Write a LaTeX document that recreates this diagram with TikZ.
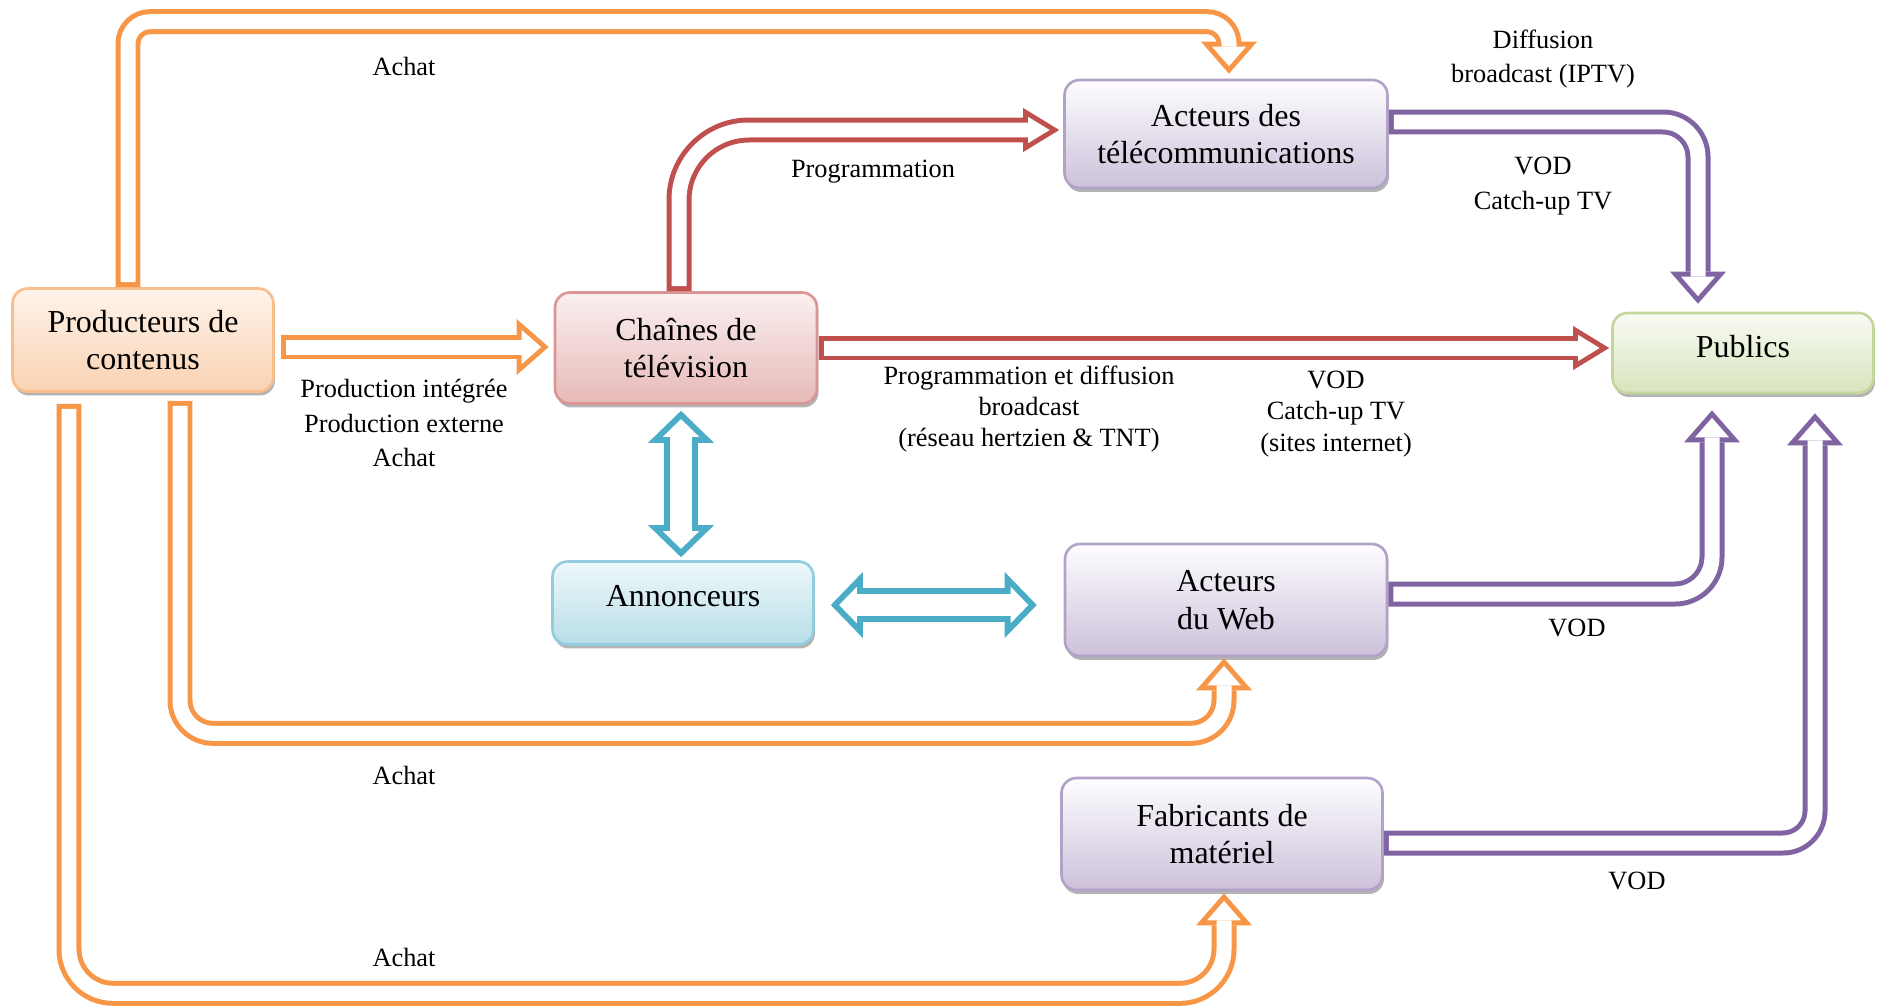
\documentclass[tikz,border=0pt]{standalone}
\usepackage{fontspec}
\setmainfont{Liberation Serif}
\usetikzlibrary{arrows.meta, calc, shadows}

\definecolor{orangeA}{HTML}{F79646}
\definecolor{redA}{HTML}{C0504D}
\definecolor{purpleA}{HTML}{8064A2}
\definecolor{blueA}{HTML}{4BACC6}
\definecolor{prodLine}{HTML}{F9BE8E}
\definecolor{prodTop}{HTML}{FEF3EA}
\definecolor{prodBot}{HTML}{FAD2B2}
\definecolor{chaineLine}{HTML}{D99694}
\definecolor{chaineTop}{HTML}{FBF0F0}
\definecolor{chaineBot}{HTML}{E6B9B8}
\definecolor{violetLine}{HTML}{B3A2C7}
\definecolor{violetTop}{HTML}{FEFDFF}
\definecolor{violetBot}{HTML}{CCC1DA}
\definecolor{publicLine}{HTML}{C3D69B}
\definecolor{publicTop}{HTML}{F9FBF4}
\definecolor{publicBot}{HTML}{D7E4BD}
\definecolor{annLine}{HTML}{93CDDD}
\definecolor{annTop}{HTML}{EEF8FA}
\definecolor{annBot}{HTML}{B7DEE8}

\begin{document}
\begin{tikzpicture}[
            x=0.02cm, y=-0.02cm,
            entity/.style n args={3}{
                draw=#1, top color=#2, bottom color=#3,
                line width=1.5pt, rounded corners=0.3cm,
                inner sep=0pt,
                font=\fontsize{18.2}{21.5}\selectfont,
                drop shadow={shadow xshift=0.03cm, shadow yshift=-0.08cm, opacity=0.6, fill=black!50}
            },
            lbl/.style={align=center, font=\fontsize{15}{19.5}\selectfont},
            blockarrow/.style={
                draw=#1, line width=0.5cm,
                -{Triangle[line width=0pt, length=0.64cm, width=1.12cm]},
                postaction={draw=white, line width=0.3cm, shorten <=0.1cm, shorten >=0.152cm,
                    -{Triangle[line width=0pt, length=0.388cm, width=0.679cm]}}
            },
            slimarrow/.style={
                draw=#1, line width=0.5cm,
                -{Triangle[line width=0pt, length=0.72cm, width=0.88cm]},
                postaction={draw=white, line width=0.3cm, shorten <=0.1cm, shorten >=0.192cm,
                    -{Triangle[line width=0pt, length=0.428cm, width=0.523cm]}}
            },
            twoway/.style={
                draw=#1, line width=0.68cm,
                {Triangle[line width=0pt, length=0.64cm, width=1.32cm]}-{Triangle[line width=0pt, length=0.64cm, width=1.32cm]},
                postaction={draw=white, line width=0.44cm, shorten <=0.167cm, shorten >=0.167cm,
                    {Triangle[line width=0pt, length=0.353cm, width=0.726cm]}-{Triangle[line width=0pt, length=0.353cm, width=0.726cm]}}
            }
        ]
        \useasboundingbox (0,0) rectangle (1880,1007);

        \node[entity={prodLine}{prodTop}{prodBot}, align=center, minimum width=5.22cm, minimum height=2.06cm] (prod) at (143,340) {Producteurs de\\contenus};
        \node[entity={chaineLine}{chaineTop}{chaineBot}, align=center, minimum width=5.24cm, minimum height=2.22cm] (chaines) at (686,348) {Chaînes de\\télévision};
        \node[entity={violetLine}{violetTop}{violetBot}, align=center, minimum width=6.46cm, minimum height=2.16cm] (telecom) at (1226,134) {Acteurs des\\télécommunications};
        \node[entity={publicLine}{publicTop}{publicBot}, text depth=0.28cm, minimum width=5.22cm, minimum height=1.6cm] (publics) at (1743,353) {Publics};
        \node[entity={annLine}{annTop}{annBot}, text depth=0.28cm, minimum width=5.22cm, minimum height=1.66cm] (annonceurs) at (683,603) {Annonceurs};
        \node[entity={violetLine}{violetTop}{violetBot}, align=center, minimum width=6.44cm, minimum height=2.24cm] (web) at (1226,600) {Acteurs\\du Web};
        \node[entity={violetLine}{violetTop}{violetBot}, align=center, minimum width=6.42cm, minimum height=2.24cm] (fabricants) at (1222,834) {Fabricants de\\matériel};

        \draw[blockarrow=orangeA, rounded corners=0.44cm] ($(prod.north)+(-15,0)$) |- ($(telecom.north)+(3,-57)$) -- ($(telecom.north)+(3,-5)$);
        \draw[blockarrow=orangeA] ($(prod.east)+(6,7)$) -- ($(chaines.west)+(-5,-1)$);
        \draw[blockarrow=orangeA, rounded corners=0.66cm] ($(prod.south)+(37,8)$) |- ($(web.south)+(-2,76)$) -- ($(web.south)+(-2,1)$);
        \draw[blockarrow=orangeA, rounded corners=0.88cm] ($(prod.south)+(-74,11)$) |- ($(fabricants.south)+(2,102)$) -- ($(fabricants.south)+(2,2)$);

        \draw[slimarrow=redA, rounded corners=1.4cm] ($(chaines.north)+(-7,0)$) |- ($(telecom.west)+(-4,-4)$);
        \draw[slimarrow=redA] ($(chaines.east)+(1,0)$) -- ($(publics.west)+(-2,-5)$);

        \draw[blockarrow=purpleA, rounded corners=0.7cm] ($(telecom.east)+(0,-12)$) -| ($(publics.north)+(-45,-8)$);
        \draw[blockarrow=purpleA, rounded corners=0.74cm] ($(web.east)+(0,-6)$) -| ($(publics.south)+(-31,16)$);
        \draw[blockarrow=purpleA, rounded corners=0.64cm] ($(fabricants.east)+(0,9)$) -| ($(publics.south)+(72,19)$);

        \draw[twoway=blueA] ($(chaines.south)+(-5,6)$) -- ($(annonceurs.north)+(-2,-3)$);
        \draw[twoway=blueA] ($(annonceurs.east)+(16,2)$) -- ($(web.west)+(-27,5)$);

        \node[lbl] (achathaut) at (404,66) {Achat};
        \node[lbl] (prog) at (873,172) {Programmation};
        \node[lbl] (iptv) at (1543,59) {Diffusion\\broadcast (IPTV)};
        \node[lbl] (vodtel) at (1543,186) {VOD\\Catch-up TV};
        \node[lbl] (prodint) at (404,423) {Production intégrée\\Production externe\\Achat};
        \node[lbl, font=\fontsize{15}{17.4}\selectfont] (hertz) at (1029,409) {Programmation et diffusion\\broadcast\\(réseau hertzien \& TNT)};
        \node[lbl, font=\fontsize{15}{18.1}\selectfont] (vodsites) at (1336,414) {VOD\\Catch-up TV\\(sites internet)};
        \node[lbl] (vodweb) at (1577,628) {VOD};
        \node[lbl] (achatweb) at (404,775) {Achat};
        \node[lbl] (vodfab) at (1637,881) {VOD};
        \node[lbl] (achatfab) at (404,957) {Achat};
    \end{tikzpicture}
\end{document}
